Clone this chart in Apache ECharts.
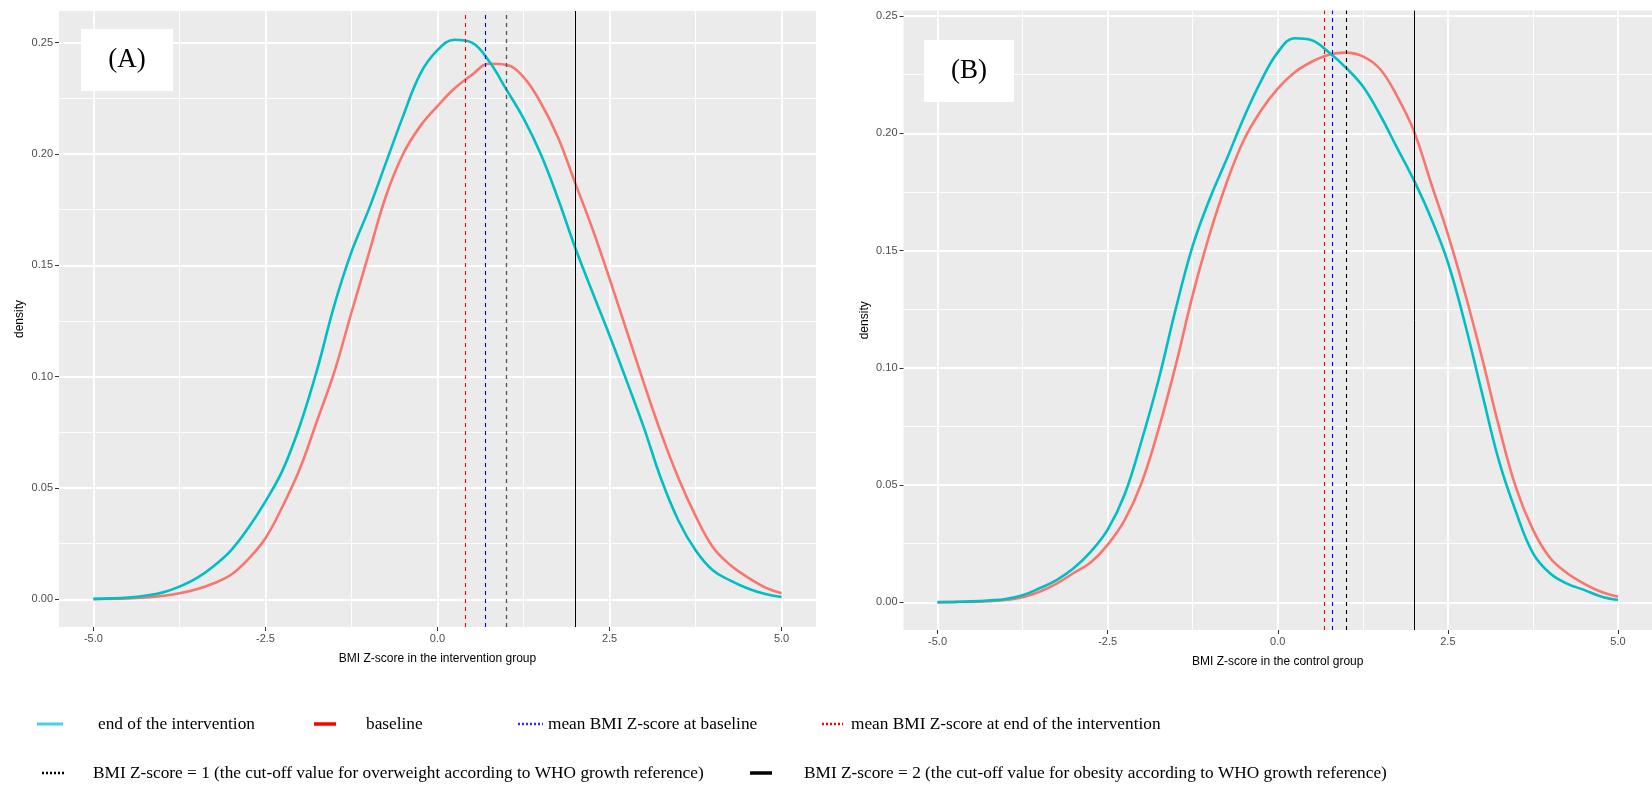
<!DOCTYPE html>
<html>
<head>
<meta charset="utf-8">
<title>BMI Z-score density</title>
<script src="https://cdn.jsdelivr.net/npm/echarts@6.0.0/dist/echarts.min.js"></script>
<style>
  html, body { margin: 0; padding: 0; background: #fff; }
  #chart { width: 1652px; height: 787px; }
</style>
</head>
<body>
<div id="chart"></div>
<script>
// BMI Z-score positions where the density curves were read
const zGrid = [-5, -4.75, -4.5, -4.25, -4, -3.75, -3.5, -3.25, -3, -2.75, -2.5, -2.25, -2, -1.75, -1.5, -1.25, -1, -0.75, -0.5, -0.25,
  0, 0.25, 0.5, 0.75, 1, 1.25, 1.5, 1.75, 2, 2.25, 2.5, 2.75, 3, 3.25, 3.5, 3.75, 4, 4.25, 4.5, 4.75, 5];

// (A) intervention group
const aEnd = [0.0002, 0.0004, 0.0008, 0.0016, 0.003, 0.0057, 0.0095, 0.015, 0.022, 0.032, 0.044, 0.058, 0.078, 0.103, 0.132, 0.156, 0.175, 0.196, 0.217, 0.236,
  0.2466, 0.2513, 0.2500, 0.2416, 0.229, 0.216, 0.200, 0.180, 0.158, 0.138, 0.1185, 0.098, 0.077, 0.054, 0.0354, 0.022, 0.013, 0.0085, 0.005, 0.0025, 0.001];
const aBase = [0.0001, 0.0002, 0.0004, 0.0008, 0.0015, 0.0027, 0.0045, 0.0072, 0.011, 0.018, 0.0274, 0.0418, 0.0586, 0.0802, 0.102, 0.1288, 0.155, 0.181, 0.200, 0.2125,
  0.2215, 0.2295, 0.2355, 0.2405, 0.2400, 0.2345, 0.223, 0.2075, 0.187, 0.1665, 0.144, 0.1205, 0.097, 0.0745, 0.0545, 0.0375, 0.0235, 0.0155, 0.010, 0.0055, 0.0027];

// (B) control group
const bEnd = [0.0001, 0.0002, 0.0004, 0.0008, 0.0014, 0.003, 0.006, 0.0095, 0.0145, 0.0215, 0.031, 0.046, 0.069, 0.095, 0.125, 0.152, 0.172, 0.189, 0.2065, 0.222,
  0.2345, 0.2405, 0.2397, 0.2345, 0.228, 0.220, 0.208, 0.194, 0.180, 0.164, 0.145, 0.119, 0.0895, 0.0604, 0.0386, 0.021, 0.0124, 0.008, 0.0053, 0.0025, 0.001];
const bBase = [0.0, 0.0001, 0.0002, 0.0005, 0.001, 0.0022, 0.0045, 0.008, 0.0125, 0.017, 0.0245, 0.035, 0.051, 0.074, 0.101, 0.131, 0.157, 0.179, 0.197, 0.2095,
  0.219, 0.226, 0.2305, 0.2335, 0.2344, 0.2328, 0.2275, 0.216, 0.201, 0.179, 0.157, 0.132, 0.1045, 0.075, 0.049, 0.031, 0.019, 0.0125, 0.008, 0.0045, 0.0024];

// vertical lines: mean at end, mean at baseline, cut-off overweight, cut-off obesity
const aRefs = [0.41, 0.70, 1, 2];
const bRefs = [0.69, 0.80, 1, 2];

// tick labels and grid lines
const xTicks = [-5, -2.5, 0, 2.5, 5];
const xMinor = [-3.75, -1.25, 1.25, 3.75];
const yTicks = [0, 0.05, 0.1, 0.15, 0.2, 0.25];
const yMinor = [0.025, 0.075, 0.125, 0.175, 0.225];

const CYAN = '#00BFC4';
const SALMON = '#F8766D';
const SANS = 'Liberation Sans';
const SERIF = 'Liberation Serif';

const pairs = ys => zGrid.map((x, i) => [x, ys[i]]);

const majorX = (gridIndex, title) => ({
  type: 'value', gridIndex, min: -5.5, max: 5.5, position: 'bottom',
  name: title, nameLocation: 'middle', nameGap: 26,
  nameTextStyle: { color: '#000', fontSize: 12, fontFamily: SANS },
  axisLine: { show: false, onZero: false },
  axisTick: { show: true, length: 4, customValues: xTicks, lineStyle: { color: '#333', width: 1 } },
  axisLabel: { customValues: xTicks, formatter: v => v.toFixed(1), color: '#4D4D4D', fontSize: 11, fontFamily: SANS, margin: 6 },
  splitLine: { show: true, lineStyle: { color: '#fff', width: 1.8 } }
});
const minorX = gridIndex => ({
  type: 'value', gridIndex, min: -5.5, max: 5.5, position: 'top',
  axisLine: { show: false, onZero: false },
  axisTick: { show: false, customValues: xMinor },
  axisLabel: { show: false, customValues: xMinor },
  splitLine: { show: true, lineStyle: { color: '#fff', width: 0.9 } }
});
const majorY = (gridIndex, min, max) => ({
  type: 'value', gridIndex, min, max, position: 'left',
  name: 'density', nameLocation: 'middle', nameGap: 33,
  nameTextStyle: { color: '#000', fontSize: 12, fontFamily: SANS },
  axisLine: { show: false, onZero: false },
  axisTick: { show: true, length: 4, customValues: yTicks, lineStyle: { color: '#333', width: 1 } },
  axisLabel: { customValues: yTicks, formatter: v => v.toFixed(2), color: '#4D4D4D', fontSize: 11, fontFamily: SANS, margin: 6 },
  splitLine: { show: true, lineStyle: { color: '#fff', width: 1.8 } }
});
const minorY = (gridIndex, min, max) => ({
  type: 'value', gridIndex, min, max, position: 'right',
  axisLine: { show: false, onZero: false },
  axisTick: { show: false, customValues: yMinor },
  axisLabel: { show: false, customValues: yMinor },
  splitLine: { show: true, lineStyle: { color: '#fff', width: 0.9 } }
});

const refLine = (value, color, dashed, width) => ({
  xAxis: value,
  lineStyle: { color, type: dashed ? [4, 4] : 'solid', width }
});

const densitySeries = (name, ys, color, axis, refs) => ({
  type: 'line', name, xAxisIndex: axis, yAxisIndex: axis,
  data: pairs(ys), showSymbol: false, smooth: 0.4,
  lineStyle: { color, width: 2.6 }, itemStyle: { color },
  silent: true, animation: false,
  markLine: refs ? {
    symbol: 'none', silent: true, animation: false, label: { show: false },
    data: refs
  } : undefined
});

// legend at the bottom, drawn as plain graphics
const legendItems = [
  { x1: 37, x2: 63, y: 724, color: '#47D1E6', width: 3, dash: null, tx: 98, text: 'end of the intervention' },
  { x1: 314, x2: 336, y: 724, color: '#FF0000', width: 3.5, dash: null, tx: 366, text: 'baseline' },
  { x1: 518, x2: 543, y: 724, color: '#2B2BFF', width: 2.5, dash: [2, 2], tx: 548, text: 'mean BMI Z-score at baseline' },
  { x1: 822, x2: 843, y: 724, color: '#FF0000', width: 2.5, dash: [2, 2], tx: 851, text: 'mean BMI Z-score at end of the intervention' },
  { x1: 42, x2: 65, y: 773, color: '#000', width: 2.5, dash: [2, 2], tx: 93, text: 'BMI Z-score = 1 (the cut-off value for overweight according to WHO growth reference)' },
  { x1: 750, x2: 772, y: 773, color: '#000', width: 3.5, dash: null, tx: 804, text: 'BMI Z-score = 2 (the cut-off value for obesity according to WHO growth reference)' }
];
const legendGraphics = [];
legendItems.forEach(it => {
  legendGraphics.push({
    type: 'line', silent: true,
    shape: { x1: it.x1, y1: it.y, x2: it.x2, y2: it.y },
    style: { stroke: it.color, lineWidth: it.width, lineDash: it.dash || null }
  });
  legendGraphics.push({
    type: 'text', silent: true, x: it.tx, y: it.y,
    style: { text: it.text, fill: '#000', font: '17.3px "' + SERIF + '"', textAlign: 'left', textVerticalAlign: 'middle', verticalAlign: 'middle' }
  });
});

const panelTag = (x, y, w, h, label) => ([
  { type: 'rect', silent: true, z: 100, shape: { x, y, width: w, height: h }, style: { fill: '#fff' } },
  { type: 'text', silent: true, z: 101, x: x + w / 2, y: y + h / 2,
    style: { text: label, fill: '#000', font: '27px "' + SERIF + '"', textAlign: 'center', textVerticalAlign: 'middle', verticalAlign: 'middle', align: 'center' } }
]);

const chart = echarts.init(document.getElementById('chart'), null, { renderer: 'canvas' });

const option = {
  backgroundColor: '#fff',
  animation: false,
  grid: [
    { left: 59, top: 11, width: 757, height: 616, show: true, backgroundColor: '#EBEBEB', borderWidth: 0 },
    { left: 903.5, top: 10.6, width: 766.5, height: 619.4, show: true, backgroundColor: '#EBEBEB', borderWidth: 0 }
  ],
  xAxis: [
    majorX(0, 'BMI Z-score in the intervention group'), minorX(0),
    majorX(1, 'BMI Z-score in the control group'), minorX(1)
  ],
  yAxis: [
    majorY(0, -0.01244, 0.2642), minorY(0, -0.01244, 0.2642),
    majorY(1, -0.0118, 0.2523), minorY(1, -0.0118, 0.2523)
  ],
  series: [
    densitySeries('baseline', aBase, SALMON, 0),
    densitySeries('end of the intervention', aEnd, CYAN, 0, [
      refLine(aRefs[0], '#FF0000', true, 1.1),
      refLine(aRefs[1], '#0000FF', true, 1.1),
      refLine(aRefs[2], '#555555', true, 1.3),
      refLine(aRefs[3], '#000000', false, 1)
    ]),
    densitySeries('baseline', bBase, SALMON, 2),
    densitySeries('end of the intervention', bEnd, CYAN, 2, [
      refLine(bRefs[0], '#FF0000', true, 1.1),
      refLine(bRefs[1], '#0000FF', true, 1.1),
      refLine(bRefs[2], '#000000', true, 1.1),
      refLine(bRefs[3], '#000000', false, 1)
    ])
  ],
  graphic: [
    ...panelTag(81, 29, 92, 62, '(A)'),
    ...panelTag(924, 40, 90, 62, '(B)'),
    ...legendGraphics
  ]
};

chart.setOption(option);
</script>
</body>
</html>
